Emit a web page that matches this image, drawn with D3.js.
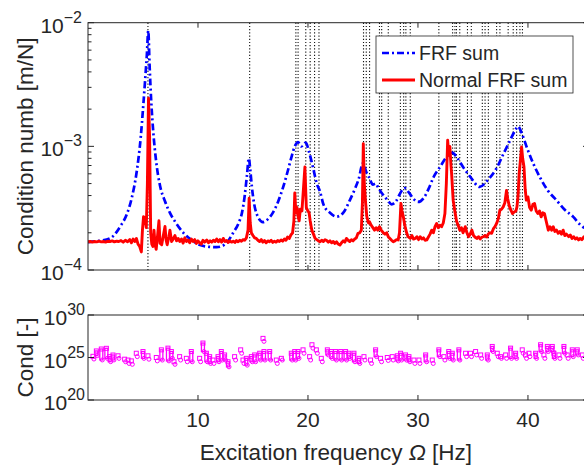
<!DOCTYPE html>
<html><head><meta charset="utf-8">
<script src="https://cdn.jsdelivr.net/npm/d3@7"></script>
<style>
body{margin:0;background:#fff}
svg{display:block}
text{font-family:"Liberation Sans",Arial,Helvetica,sans-serif;fill:#262626}
</style>
</head><body>
<svg id="chart" width="584" height="466"></svg>
<script>
// ---------------- data ----------------
const xTickVals = [10, 20, 30, 40];
const topYTicks = [1e-4, 1e-3, 1e-2];
const topYTickExp = ["−4", "−3", "−2"];
const botYTicks = [1e20, 1e25, 1e30];
const botYTickExp = ["20", "25", "30"];

// natural frequencies (dotted vertical lines) [Hz]
const modeFreqs = [5.45, 14.7, 18.9, 19.1, 19.8, 20.2, 20.6, 21.0, 25.05, 25.3, 25.6,
  26.5, 26.7, 27.3, 28.4, 28.7, 28.9, 29.3, 31.9, 33.15, 33.36, 33.5, 33.8, 34.5,
  34.85, 35.85, 36.1, 36.4, 37.15, 37.45, 38.2, 38.66, 38.97, 39.27, 39.5];

// FRF sum (blue dash-dot)
const frfFreq = [0.0, 1.0, 2.0, 3.0, 3.5, 4.0, 4.4, 4.8, 5.0, 5.2, 5.35, 5.48, 5.6, 5.75,
  5.94, 6.2, 6.55, 7.0, 7.45, 8.0, 8.67, 9.4, 10.2, 11.0, 11.7, 12.5, 13.2, 13.7, 14.0,
  14.25, 14.45, 14.62, 14.75, 14.9, 15.3, 15.9, 16.4, 16.8, 17.3, 17.75, 18.2, 18.5,
  18.8, 19.1, 19.4, 19.8, 20.1, 20.5, 20.8, 21.1, 21.4, 22.0, 22.6, 23.2, 23.8, 24.3,
  24.6, 25.0, 25.3, 25.6, 25.9, 26.15, 26.4, 26.7, 27.0, 27.3, 27.6, 28.0, 28.4, 28.8,
  29.2, 29.6, 30.0, 30.5, 31.0, 31.4, 32.0, 32.6, 33.1, 33.6, 34.1, 34.8, 35.6, 36.4,
  37.2, 37.8, 38.4, 38.8, 39.1, 39.4, 39.9, 40.5, 41.1, 41.8, 42.6, 43.3, 44.1, 44.8, 45.6];
const frfSum = [1.68e-4, 1.72e-4, 1.80e-4, 2.3e-4, 2.78e-4, 3.9e-4, 6.0e-4, 1.2e-3, 2.0e-3,
  3.5e-3, 5.5e-3, 8.6e-3, 4.5e-3, 2.3e-3, 1.29e-3, 7.5e-4, 4.8e-4, 3.6e-4, 2.9e-4, 2.4e-4,
  2.0e-4, 1.75e-4, 1.59e-4, 1.54e-4, 1.53e-4, 1.62e-4, 2.0e-4, 2.4e-4, 2.9e-4, 4.0e-4,
  5.8e-4, 8.0e-4, 6.5e-4, 4.7e-4, 2.9e-4, 2.44e-4, 2.6e-4, 2.9e-4, 3.6e-4, 4.7e-4,
  6.5e-4, 8.2e-4, 1.0e-3, 1.08e-3, 1.0e-3, 1.07e-3, 9.0e-4, 6.5e-4, 5.0e-4, 4.3e-4,
  3.4e-4, 2.9e-4, 2.7e-4, 2.9e-4, 3.66e-4, 4.6e-4, 5.4e-4, 7.3e-4, 6.2e-4, 5.5e-4,
  4.9e-4, 5.0e-4, 4.6e-4, 4.2e-4, 3.9e-4, 3.6e-4, 3.4e-4, 3.6e-4, 4.2e-4, 4.6e-4,
  4.2e-4, 3.75e-4, 3.55e-4, 3.8e-4, 4.6e-4, 5.6e-4, 6.8e-4, 8.2e-4, 8.9e-4, 8.0e-4,
  6.8e-4, 5.6e-4, 4.7e-4, 5.4e-4, 6.8e-4, 8.8e-4, 1.13e-3, 1.33e-3, 1.45e-3, 1.3e-3,
  9.8e-4, 7.2e-4, 5.6e-4, 4.4e-4, 3.66e-4, 3.1e-4, 2.7e-4, 2.3e-4, 2.1e-4];

// Normal FRF sum (red)
const nrmFreq = [0.0, 0.2, 0.4, 0.6, 0.8, 1.0, 1.2, 1.4, 1.6, 1.8, 2.0, 2.2, 2.4, 2.6, 2.8,
  3.0, 3.2, 3.4, 3.6, 3.8, 3.95, 4.1, 4.25, 4.4, 4.55, 4.7, 4.85, 4.95, 5.05, 5.2, 5.3,
  5.4, 5.5, 5.6, 5.7, 5.8, 5.9, 6.0, 6.1, 6.2, 6.35, 6.45, 6.55, 6.7, 6.85, 7.0, 7.1,
  7.2, 7.35, 7.45, 7.6, 7.7, 7.9, 8.05, 8.2, 8.35, 8.5, 8.65, 8.8, 8.95, 9.1, 9.25, 9.4,
  9.55, 9.7, 9.85, 10.0, 10.15, 10.3, 10.45, 10.6, 10.8, 10.95, 11.1, 11.25, 11.4, 11.55,
  11.7, 11.85, 12.0, 12.15, 12.3, 12.45, 12.6, 12.75, 12.9, 13.05, 13.2, 13.35, 13.5,
  13.65, 13.8, 13.95, 14.1, 14.25, 14.4, 14.55, 14.65, 14.75, 14.85, 15.0, 15.15, 15.3,
  15.45, 15.6, 15.75, 15.9, 16.05, 16.2, 16.35, 16.5, 16.65, 16.8, 16.95, 17.1, 17.25,
  17.4, 17.55, 17.7, 17.85, 18.0, 18.15, 18.3, 18.45, 18.6, 18.72, 18.8, 18.9, 19.0,
  19.1, 19.2, 19.3, 19.45, 19.6, 19.72, 19.85, 20.0, 20.1, 20.2, 20.35, 20.5, 20.65,
  20.8, 20.95, 21.1, 21.25, 21.4, 21.55, 21.7, 21.85, 22.0, 22.15, 22.3, 22.45, 22.6,
  22.75, 22.9, 23.05, 23.2, 23.35, 23.5, 23.65, 23.8, 23.95, 24.1, 24.25, 24.4, 24.55,
  24.7, 24.85, 24.95, 25.03, 25.12, 25.22, 25.35, 25.5, 25.6, 25.75, 25.9, 26.05, 26.2,
  26.35, 26.5, 26.65, 26.85, 27.0, 27.15, 27.3, 27.45, 27.6, 27.75, 27.9, 28.05, 28.2,
  28.32, 28.45, 28.55, 28.67, 28.8, 28.97, 29.1, 29.3, 29.45, 29.6, 29.75, 29.9, 30.05,
  30.2, 30.35, 30.5, 30.65, 30.8, 30.95, 31.1, 31.25, 31.4, 31.55, 31.7, 31.85, 32.0,
  32.15, 32.3, 32.45, 32.58, 32.7, 32.8, 32.9, 33.0, 33.06, 33.2, 33.35, 33.5, 33.65,
  33.8, 33.95, 34.1, 34.3, 34.45, 34.6, 34.75, 34.9, 35.05, 35.2, 35.35, 35.5, 35.65,
  35.8, 35.95, 36.1, 36.25, 36.4, 36.55, 36.7, 36.85, 37.0, 37.15, 37.3, 37.45, 37.6,
  37.75, 37.9, 38.05, 38.15, 38.3, 38.45, 38.6, 38.75, 38.9, 39.0, 39.1, 39.2, 39.3,
  39.42, 39.52, 39.64, 39.75, 39.85, 40.0, 40.15, 40.3, 40.45, 40.6, 40.75, 40.9, 41.05,
  41.2, 41.35, 41.5, 41.65, 41.85, 42.0, 42.15, 42.3, 42.45, 42.6, 42.75, 42.9, 43.05,
  43.2, 43.35, 43.5, 43.7, 43.85, 44.0, 44.15, 44.3, 44.45, 44.6, 44.75, 44.9, 45.1,
  45.3, 45.6];
const nrmSum = [1.69e-4, 1.70e-4, 1.68e-4, 1.70e-4, 1.69e-4, 1.71e-4, 1.69e-4, 1.70e-4,
  1.68e-4, 1.71e-4, 1.70e-4, 1.72e-4, 1.69e-4, 1.71e-4, 1.70e-4, 1.73e-4, 1.68e-4,
  1.74e-4, 1.69e-4, 1.76e-4, 1.66e-4, 1.78e-4, 1.70e-4, 1.80e-4, 1.62e-4, 1.55e-4,
  1.40e-4, 2.10e-4, 2.70e-4, 2.60e-4, 2.20e-4, 5.0e-4, 2.45e-3, 1.2e-3, 2.0e-4,
  1.62e-4, 1.55e-4, 2.10e-4, 1.60e-4, 1.47e-4, 2.0e-4, 2.50e-4, 1.65e-4, 1.60e-4,
  1.90e-4, 2.25e-4, 1.75e-4, 1.60e-4, 1.85e-4, 2.10e-4, 1.70e-4, 1.75e-4, 1.90e-4,
  1.72e-4, 1.80e-4, 1.70e-4, 1.78e-4, 1.65e-4, 1.82e-4, 1.70e-4, 1.75e-4, 1.66e-4,
  1.78e-4, 1.70e-4, 1.76e-4, 1.64e-4, 1.72e-4, 1.66e-4, 1.62e-4, 1.74e-4, 1.68e-4,
  1.75e-4, 1.66e-4, 1.72e-4, 1.68e-4, 1.74e-4, 1.70e-4, 1.78e-4, 1.69e-4, 1.76e-4,
  1.68e-4, 1.80e-4, 1.70e-4, 1.73e-4, 1.67e-4, 1.72e-4, 1.68e-4, 1.71e-4, 1.67e-4,
  1.73e-4, 1.69e-4, 1.74e-4, 1.71e-4, 1.76e-4, 1.74e-4, 1.82e-4, 2.10e-4, 3.80e-4,
  2.40e-4, 2.00e-4, 1.90e-4, 1.82e-4, 1.80e-4, 1.74e-4, 1.70e-4, 1.76e-4, 1.68e-4,
  1.73e-4, 1.66e-4, 1.72e-4, 1.69e-4, 1.74e-4, 1.67e-4, 1.71e-4, 1.68e-4, 1.73e-4,
  1.70e-4, 1.75e-4, 1.71e-4, 1.78e-4, 1.74e-4, 1.85e-4, 1.80e-4, 1.92e-4, 2.00e-4,
  2.5e-4, 4.20e-4, 2.90e-4, 3.20e-4, 2.70e-4, 2.50e-4, 3.10e-4, 3.00e-4, 4.70e-4,
  6.80e-4, 3.20e-4, 3.00e-4, 2.90e-4, 2.50e-4, 2.10e-4, 1.95e-4, 1.80e-4, 1.76e-4,
  1.72e-4, 1.69e-4, 1.74e-4, 1.70e-4, 1.76e-4, 1.73e-4, 1.68e-4, 1.72e-4, 1.66e-4,
  1.70e-4, 1.64e-4, 1.69e-4, 1.62e-4, 1.59e-4, 1.66e-4, 1.72e-4, 1.68e-4, 1.80e-4,
  1.74e-4, 1.70e-4, 1.76e-4, 1.72e-4, 1.78e-4, 1.82e-4, 1.98e-4, 2.00e-4, 2.10e-4,
  3.50e-4, 1.05e-3, 5.0e-4, 3.67e-4, 2.70e-4, 2.40e-4, 2.45e-4, 2.30e-4, 2.20e-4,
  2.10e-4, 2.20e-4, 2.10e-4, 2.24e-4, 2.10e-4, 2.00e-4, 1.95e-4, 2.00e-4, 1.86e-4,
  1.80e-4, 1.74e-4, 1.69e-4, 1.72e-4, 1.76e-4, 1.75e-4, 2.00e-4, 3.45e-4, 3.00e-4,
  2.69e-4, 2.30e-4, 2.00e-4, 1.86e-4, 1.80e-4, 1.90e-4, 1.78e-4, 1.80e-4, 1.86e-4,
  1.76e-4, 1.86e-4, 1.78e-4, 1.82e-4, 1.74e-4, 1.75e-4, 1.85e-4, 1.95e-4, 2.10e-4,
  2.00e-4, 2.24e-4, 2.38e-4, 2.20e-4, 2.30e-4, 2.24e-4, 2.40e-4, 2.86e-4, 5.0e-4,
  1.12e-3, 8.5e-4, 1.0e-3, 7.0e-4, 6.0e-4, 3.67e-4, 3.0e-4, 2.50e-4, 2.30e-4, 2.10e-4,
  2.20e-4, 2.0e-4, 2.24e-4, 2.0e-4, 1.86e-4, 1.95e-4, 2.10e-4, 1.90e-4, 1.84e-4,
  1.80e-4, 1.86e-4, 1.78e-4, 1.84e-4, 1.86e-4, 1.90e-4, 1.85e-4, 1.96e-4, 2.00e-4,
  1.98e-4, 2.15e-4, 2.24e-4, 2.38e-4, 2.60e-4, 3.05e-4, 3.10e-4, 3.24e-4, 3.50e-4,
  4.40e-4, 3.80e-4, 3.30e-4, 3.05e-4, 2.86e-4, 2.95e-4, 3.00e-4, 3.24e-4, 4.00e-4,
  6.00e-4, 7.50e-4, 9.90e-4, 8.0e-4, 6.80e-4, 4.50e-4, 3.67e-4, 3.90e-4, 3.20e-4,
  3.05e-4, 3.40e-4, 3.45e-4, 3.00e-4, 2.86e-4, 3.00e-4, 2.69e-4, 2.90e-4, 2.86e-4,
  2.50e-4, 2.10e-4, 2.24e-4, 2.10e-4, 2.24e-4, 2.05e-4, 2.10e-4, 1.98e-4, 2.05e-4,
  1.95e-4, 2.10e-4, 1.90e-4, 1.95e-4, 1.86e-4, 1.92e-4, 1.80e-4, 1.86e-4, 1.78e-4,
  1.82e-4, 1.75e-4, 1.80e-4, 1.76e-4, 1.86e-4, 1.78e-4, 1.80e-4];

// condition number markers: frequency, log10 of upper and lower value of each cluster
const condFreq = [0.45, 0.76, 1.21, 1.67, 1.97, 2.27, 2.73, 3.33, 3.64, 3.94, 4.39, 5.0,
  5.45, 6.21, 6.67, 7.27, 7.58, 7.82, 8.33, 8.94, 9.39, 10.15, 10.45, 10.76, 11.06,
  11.36, 11.82, 12.12, 12.42, 12.73, 13.33, 13.88, 14.09, 14.39, 14.85, 15.15, 15.61,
  15.91, 16.0, 16.52, 17.12, 17.58, 18.48, 18.79, 19.09, 19.55, 20.15, 20.36, 20.76,
  21.21, 21.76, 22.12, 22.5, 22.97, 23.42, 23.72, 24.18, 24.63, 25.09, 25.69, 26.15,
  26.6, 27.21, 27.66, 28.12, 28.42, 28.87, 29.18, 29.63, 30.09, 30.7, 31.3, 31.9, 32.36,
  32.8, 33.12, 33.72, 34.33, 34.78, 35.24, 35.7, 36.3, 36.75, 37.21, 37.5, 37.97, 38.42,
  38.88, 39.48, 39.78, 40.09, 40.7, 41.15, 41.45, 41.76, 42.21, 42.36, 42.82, 43.27,
  43.57, 44.03, 44.48, 44.94];
const condLogHi = [25.14, 25.77, 26.0, 26.08, 25.1, 25.29, 25.2, 24.8, 24.7, 24.6, 25.5,
  25.7, 25.2, 25.0, 25.9, 26.1, 25.7, 24.5, 25.1, 24.9, 25.7, 24.9, 26.7, 25.5, 25.1,
  24.7, 25.1, 25.7, 25.3, 24.5, 25.1, 25.9, 24.7, 24.9, 25.1, 25.3, 25.5, 27.25, 25.7,
  25.7, 24.7, 24.9, 25.5, 25.7, 25.7, 25.9, 25.1, 26.5, 25.9, 24.9, 25.9, 25.7, 25.7,
  25.7, 25.7, 25.5, 25.5, 24.9, 25.1, 24.7, 25.9, 24.9, 25.0, 25.1, 25.2, 25.5, 25.3,
  25.1, 24.7, 24.7, 25.3, 24.7, 25.9, 25.1, 25.7, 25.5, 25.9, 25.5, 25.5, 25.7, 25.3,
  25.3, 26.3, 25.5, 25.1, 25.3, 26.1, 25.5, 25.9, 25.3, 25.5, 25.5, 26.5, 25.3, 26.3,
  26.3, 25.5, 25.3, 26.3, 25.3, 25.9, 25.9, 25.3];
const condLogLo = [24.82, 25.22, 24.71, 24.9, 24.51, 24.71, 24.9, 24.5, 24.3, 24.2, 25.1,
  24.9, 24.8, 24.6, 24.7, 24.6, 24.9, 24.2, 24.7, 24.5, 24.5, 24.5, 25.7, 24.5, 24.3,
  24.3, 24.5, 24.7, 24.7, 23.9, 24.7, 25.5, 24.3, 24.1, 24.5, 24.5, 24.7, 26.9, 24.7,
  24.7, 24.3, 24.7, 24.7, 24.7, 24.9, 25.5, 24.7, 26.1, 25.5, 24.5, 25.3, 24.9, 24.7,
  24.7, 24.7, 24.9, 24.5, 24.3, 24.7, 24.3, 25.1, 24.5, 24.65, 24.7, 24.6, 24.7, 24.7,
  24.5, 24.3, 24.3, 24.5, 24.3, 25.1, 24.7, 24.9, 24.7, 24.7, 25.1, 25.1, 25.3, 24.9,
  24.7, 25.7, 25.1, 24.9, 24.9, 24.9, 24.9, 25.5, 24.9, 25.1, 24.9, 25.7, 24.9, 25.7,
  25.7, 24.9, 24.9, 25.5, 24.9, 25.1, 25.3, 24.9];

// ---------------- layout ----------------
const L = 88, R = 589;
const topT = 22.7, topB = 270;
const botT = 315, botB = 400;
const axisCol = "#262626";
const labelSize = "22.5px";

const svg = d3.select("#chart");
const x = d3.scaleLinear().domain([0, 45.55]).range([L, R]);
const yTop = d3.scaleLog().domain([1e-4, 1e-2]).range([topB, topT]);
const yBot = d3.scaleLog().domain([1e20, 1e30]).range([botB, botT]);

const defs = svg.append("defs");
defs.append("clipPath").attr("id", "clipTop").append("rect")
  .attr("x", L).attr("y", topT).attr("width", R - L).attr("height", topB - topT);
defs.append("clipPath").attr("id", "clipBot").append("rect")
  .attr("x", L).attr("y", botT).attr("width", R - L).attr("height", botB - botT);

// ---------- top panel ----------
const gTop = svg.append("g");
gTop.append("g").selectAll("line").data(modeFreqs).join("line")
  .attr("x1", d => x(d)).attr("x2", d => x(d))
  .attr("y1", topT).attr("y2", topB)
  .attr("stroke", "#111").attr("stroke-width", 1.1)
  .attr("stroke-dasharray", "1.2,2");

const frfData = frfFreq.map((f, i) => [f, frfSum[i]]);
const nrmData = nrmFreq.map((f, i) => [f, nrmSum[i]]);

gTop.append("path").datum(frfData)
  .attr("clip-path", "url(#clipTop)")
  .attr("d", d3.line().x(d => x(d[0])).y(d => yTop(d[1])).curve(d3.curveMonotoneX))
  .attr("fill", "none").attr("stroke", "#0000ff").attr("stroke-width", 2.7)
  .attr("stroke-dasharray", "7,3,2,3");
gTop.append("path").datum(nrmData)
  .attr("clip-path", "url(#clipTop)")
  .attr("d", d3.line().x(d => x(d[0])).y(d => yTop(d[1])))
  .attr("fill", "none").attr("stroke", "#ff0000").attr("stroke-width", 2.9)
  .attr("stroke-linejoin", "round");

gTop.append("rect").attr("x", L).attr("y", topT).attr("width", R - L).attr("height", topB - topT)
  .attr("fill", "none").attr("stroke", axisCol).attr("stroke-width", 1);

xTickVals.forEach(v => {
  gTop.append("line").attr("x1", x(v)).attr("x2", x(v)).attr("y1", topB).attr("y2", topB - 5).attr("stroke", axisCol);
  gTop.append("line").attr("x1", x(v)).attr("x2", x(v)).attr("y1", topT).attr("y2", topT + 5).attr("stroke", axisCol);
});
const minorTicks = [];
[1e-4, 1e-3].forEach(d => { for (let k = 2; k <= 9; k++) minorTicks.push(d * k); });
topYTicks.forEach(v => {
  gTop.append("line").attr("x1", L).attr("x2", L + 6).attr("y1", yTop(v)).attr("y2", yTop(v)).attr("stroke", axisCol);
  gTop.append("line").attr("x1", R).attr("x2", R - 6).attr("y1", yTop(v)).attr("y2", yTop(v)).attr("stroke", axisCol);
});
minorTicks.forEach(v => {
  gTop.append("line").attr("x1", L).attr("x2", L + 3.5).attr("y1", yTop(v)).attr("y2", yTop(v)).attr("stroke", axisCol);
  gTop.append("line").attr("x1", R).attr("x2", R - 3.5).attr("y1", yTop(v)).attr("y2", yTop(v)).attr("stroke", axisCol);
});

function expLabel(g, xPos, yPos, exp) {
  const t = g.append("text").attr("x", xPos).attr("y", yPos + 10)
    .attr("text-anchor", "end").style("font-size", "21px");
  t.append("tspan").text("10");
  t.append("tspan").attr("dy", -10).style("font-size", "16px").text(exp);
}
topYTicks.forEach((v, i) => expLabel(gTop, 82, yTop(v), topYTickExp[i]));

gTop.append("text")
  .attr("transform", `translate(33,${(topT + topB) / 2}) rotate(-90)`)
  .attr("text-anchor", "middle").style("font-size", labelSize)
  .text("Condition numb [m/N]");

// legend
const lg = svg.append("g");
lg.append("rect").attr("x", 376).attr("y", 36).attr("width", 197).attr("height", 57)
  .attr("fill", "#fff").attr("stroke", axisCol).attr("stroke-width", 0.8);
lg.append("line").attr("x1", 382).attr("x2", 415).attr("y1", 53).attr("y2", 53)
  .attr("stroke", "#0000ff").attr("stroke-width", 2.7).attr("stroke-dasharray", "7,3,2,3");
lg.append("line").attr("x1", 382).attr("x2", 415).attr("y1", 80).attr("y2", 80)
  .attr("stroke", "#ff0000").attr("stroke-width", 2.9);
lg.append("text").attr("x", 419).attr("y", 60).style("font-size", "19.5px").text("FRF sum");
lg.append("text").attr("x", 419).attr("y", 87).style("font-size", "19.5px").text("Normal FRF sum");

// ---------- bottom panel ----------
const gBot = svg.append("g");
const mk = gBot.append("g").attr("clip-path", "url(#clipBot)");
const condIdx = condFreq.map((f, i) => i);
mk.selectAll("rect.bar").data(condIdx.filter(i => condLogHi[i] - condLogLo[i] > 0.45)).join("rect")
  .attr("class", "bar")
  .attr("x", i => x(condFreq[i]) - 1.5).attr("width", 3)
  .attr("y", i => yBot(Math.pow(10, condLogHi[i])))
  .attr("height", i => yBot(Math.pow(10, condLogLo[i])) - yBot(Math.pow(10, condLogHi[i])))
  .attr("fill", "none").attr("stroke", "#ff00ff").attr("stroke-width", 1.3);
mk.selectAll("rect.sq").data(condIdx).join("rect")
  .attr("class", "sq")
  .attr("x", i => x(condFreq[i]) - 2).attr("y", i => yBot(Math.pow(10, condLogHi[i])) - 2)
  .attr("width", 4).attr("height", 4)
  .attr("fill", "none").attr("stroke", "#ff00ff").attr("stroke-width", 1);
mk.selectAll("circle").data(condIdx).join("circle")
  .attr("cx", i => x(condFreq[i]) + 1).attr("cy", i => yBot(Math.pow(10, condLogLo[i])))
  .attr("r", 2)
  .attr("fill", "none").attr("stroke", "#ff00ff").attr("stroke-width", 1);

gBot.append("rect").attr("x", L).attr("y", botT).attr("width", R - L).attr("height", botB - botT)
  .attr("fill", "none").attr("stroke", axisCol).attr("stroke-width", 1);
xTickVals.forEach(v => {
  gBot.append("line").attr("x1", x(v)).attr("x2", x(v)).attr("y1", botB).attr("y2", botB - 5).attr("stroke", axisCol);
  gBot.append("line").attr("x1", x(v)).attr("x2", x(v)).attr("y1", botT).attr("y2", botT + 5).attr("stroke", axisCol);
  gBot.append("text").attr("x", x(v)).attr("y", botB + 27).attr("text-anchor", "middle")
    .style("font-size", "21px").text(v);
});
botYTicks.forEach((v, i) => {
  gBot.append("line").attr("x1", L).attr("x2", L + 6).attr("y1", yBot(v)).attr("y2", yBot(v)).attr("stroke", axisCol);
  gBot.append("line").attr("x1", R).attr("x2", R - 6).attr("y1", yBot(v)).attr("y2", yBot(v)).attr("stroke", axisCol);
  expLabel(gBot, 85, yBot(v), botYTickExp[i]);
});
gBot.append("text")
  .attr("transform", `translate(33,${(botT + botB) / 2}) rotate(-90)`)
  .attr("text-anchor", "middle").style("font-size", labelSize)
  .text("Cond [-]");

const xl = svg.append("text").attr("x", (L + 584) / 2).attr("y", 460)
  .attr("text-anchor", "middle").style("font-size", labelSize);
xl.append("tspan").text("Excitation frequency ");
xl.append("tspan").style("font-style", "italic").text("Ω");
xl.append("tspan").text(" [Hz]");
</script>
</body></html>
